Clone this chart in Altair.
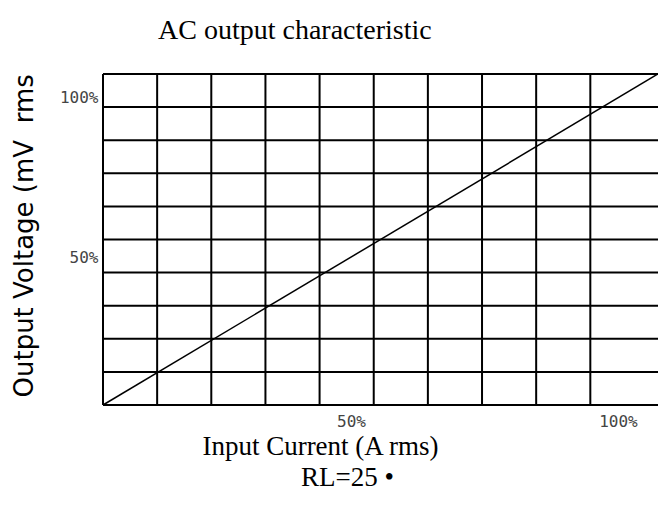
import altair as alt
import pandas as pd

# ---- data ----
X_GRID = [0, 10, 20, 30, 40, 50, 60, 70, 80, 90]          # vertical grid lines
Y_GRID = [0, 10, 20, 30, 40, 50, 60, 70, 80, 90, 100]     # horizontal grid lines
X_MAX = 102.5                                              # right edge of the plot
LINE_X = [0, 102.5]                                        # characteristic line
LINE_Y = [0, 100]
X_TICK_POS = [45.8, 95.1]
X_TICK_LABELS = ["50%", "100%"]
Y_TICK_POS = [44.7, 93.0]
Y_TICK_LABELS = ["50%", "100%"]

TITLE = "AC output characteristic"
X_TITLE = ["Input Current (A rms)", "\u200b" + "\u00a0" * 8 + "RL=25\u00a0\u2022"]
Y_TITLE = "Output Voltage (mV\u00a0\u00a0rms"


def label_expr(pos, labels):
    mid = (pos[0] + pos[1]) / 2
    return f"datum.value < {mid} ? '{labels[0]}' : '{labels[1]}'"


xscale = alt.Scale(domain=[0, X_MAX], nice=False, zero=False)
yscale = alt.Scale(domain=[0, 100], nice=False, zero=False)

LABEL_FONT = "DejaVu Sans Mono"
LABEL_COLOR = "#444444"

xaxis = alt.Axis(
    values=X_TICK_POS,
    labelExpr=label_expr(X_TICK_POS, X_TICK_LABELS),
    grid=False, domain=False, ticks=False, tickSize=0,
    labelFont=LABEL_FONT, labelFontSize=16, labelColor=LABEL_COLOR,
    labelPadding=8, labelBaseline="top", labelAlign="center",
    title=X_TITLE,
    titleFont="Liberation Serif", titleFontSize=27, titleFontWeight="normal",
    titleColor="black", titleLineHeight=31,
    titleX=217, titleY=49, titleAlign="center", titleBaseline="alphabetic",
)

yaxis = alt.Axis(
    values=Y_TICK_POS,
    labelExpr=label_expr(Y_TICK_POS, Y_TICK_LABELS),
    grid=False, domain=False, ticks=False, tickSize=0,
    labelFont=LABEL_FONT, labelFontSize=16, labelColor=LABEL_COLOR,
    labelPadding=5, labelAlign="right", labelBaseline="middle",
    title=Y_TITLE,
    titleFont="DejaVu Sans", titleFontSize=26, titleFontWeight="normal",
    titleColor="black", titleAngle=270,
    titleX=-71, titleY=323, titleAlign="left", titleBaseline="alphabetic",
)

vgrid = alt.Chart(pd.DataFrame({"x": X_GRID})).mark_rule(
    color="black", strokeWidth=2
).encode(x=alt.X("x:Q", scale=xscale, axis=xaxis))

hgrid = alt.Chart(pd.DataFrame({"y": Y_GRID})).mark_rule(
    color="black", strokeWidth=2
).encode(y=alt.Y("y:Q", scale=yscale, axis=yaxis))

line = alt.Chart(pd.DataFrame({"x": LINE_X, "y": LINE_Y})).mark_line(
    color="black", strokeWidth=1.5
).encode(
    x=alt.X("x:Q", scale=xscale, axis=xaxis),
    y=alt.Y("y:Q", scale=yscale, axis=yaxis),
)

chart = alt.layer(vgrid, hgrid, line).properties(
    width=555,
    height=331,
    autosize=alt.AutoSizeParams(type="none"),
    padding={"left": 95, "top": 66, "right": 0, "bottom": 90},
    title=alt.Title(
        TITLE, font="Liberation Serif", fontSize=28, fontWeight="normal",
        color="black", anchor="start", frame="group", dx=55, offset=4,
        baseline="alphabetic",
    ),
).configure_view(stroke="black", strokeWidth=2).configure(background="white")

chart.save("out.html", embed_options={"renderer": "svg", "actions": False})
